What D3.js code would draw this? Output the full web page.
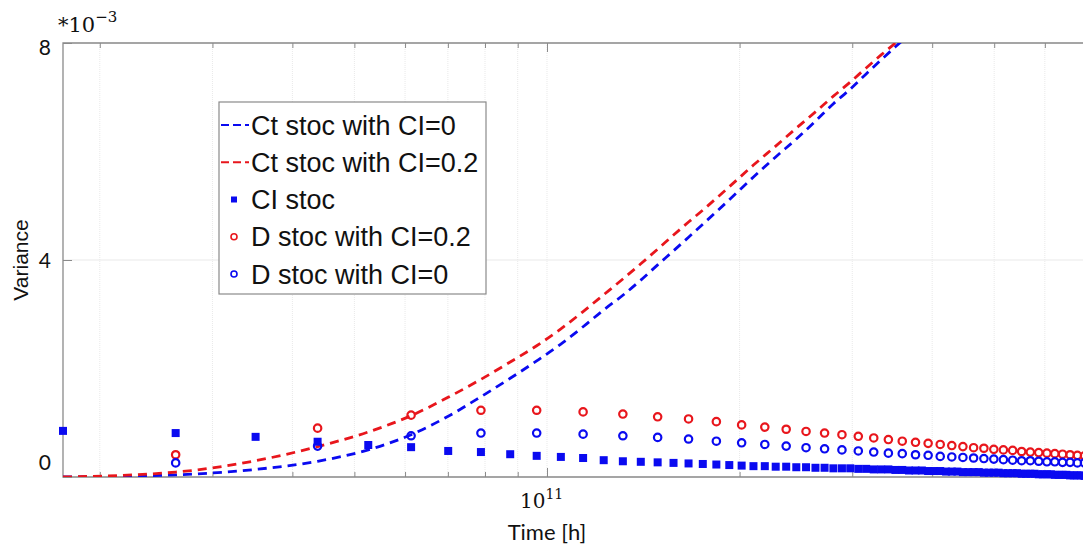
<!DOCTYPE html>
<html>
<head>
<meta charset="utf-8">
<script src="https://cdn.jsdelivr.net/npm/d3@7/dist/d3.min.js"></script>
<style>
  html, body { margin: 0; padding: 0; background: #fff; }
  svg { display: block; }
</style>
</head>
<body>
<svg id="chart" width="1083" height="548"></svg>
<script>
// ---------------- DATA ----------------
const stepHours = 8.76e9;               // one time step (1e6 years) in hours
const xTickValues = [2e10, 3e10, 4e10, 5e10, 6e10, 7e10, 8e10, 9e10, 1e11, 2e11, 3e11, 4e11, 5e11, 6e11, 7e11];
const yTickValues = [0, 4, 8];          // in units of 1e-3

// dashed curves (Ct stoc), value *1e-3
const lineSteps = [2, 3, 4, 5, 6, 7, 8, 9, 10, 11, 12, 13, 14, 15, 16, 17, 18, 19, 20, 22, 24, 26, 28, 30, 32, 34, 36, 38, 40, 42];
const ctCI0   = [0, 0.04, 0.14, 0.29, 0.50, 0.78, 1.12, 1.48, 1.82, 2.14, 2.45, 2.77, 3.08, 3.35, 3.63, 3.91, 4.17, 4.42, 4.66, 5.11, 5.53, 5.90, 6.23, 6.56, 6.88, 7.15, 7.43, 7.69, 7.93, 8.15];
const ctCI02  = [0, 0.09, 0.30, 0.56, 0.83, 1.13, 1.47, 1.80, 2.12, 2.42, 2.73, 3.05, 3.36, 3.65, 3.93, 4.20, 4.46, 4.70, 4.92, 5.35, 5.75, 6.10, 6.43, 6.73, 7.02, 7.28, 7.54, 7.78, 8.00, 8.22];

// CI stoc (filled squares), every step
const ciSteps = [2, 3, 4, 5, 6, 7, 8, 9, 10, 11, 12, 13, 14, 15, 16, 17, 18, 19, 20, 21, 22, 23, 24, 25, 26, 27, 28, 29, 30, 31, 32, 33, 34, 35, 36, 37, 38, 39, 40, 41, 42, 43, 44, 45, 46, 47, 48, 49, 50, 51, 52, 53, 54, 55, 56, 57, 58, 59, 60, 61, 62, 63, 64, 65, 66, 67, 68, 69, 70, 71, 72, 73, 74, 75, 76, 77, 78, 79, 80];
const ciStoc  = [0.85, 0.81, 0.74, 0.65, 0.59, 0.55, 0.48, 0.46, 0.42, 0.39, 0.37, 0.35, 0.31, 0.29, 0.28, 0.27, 0.26, 0.25, 0.24, 0.23, 0.22, 0.21, 0.20, 0.20, 0.19, 0.19, 0.18, 0.18, 0.17, 0.17, 0.16, 0.16, 0.16, 0.15, 0.15, 0.14, 0.14, 0.14, 0.13, 0.13, 0.12, 0.12, 0.12, 0.11, 0.11, 0.11, 0.10, 0.10, 0.10, 0.09, 0.09, 0.09, 0.09, 0.08, 0.08, 0.08, 0.08, 0.07, 0.07, 0.07, 0.07, 0.06, 0.06, 0.06, 0.06, 0.05, 0.05, 0.05, 0.05, 0.04, 0.04, 0.04, 0.04, 0.03, 0.03, 0.03, 0.03, 0.02, 0.02];

// D stoc (open circles), odd steps
const dSteps  = [3, 5, 7, 9, 11, 13, 15, 17, 19, 21, 23, 25, 27, 29, 31, 33, 35, 37, 39, 41, 43, 45, 47, 49, 51, 53, 55, 57, 59, 61, 63, 65, 67, 69, 71, 73, 75, 77, 79];
const dCI02   = [0.41, 0.90, 1.14, 1.23, 1.23, 1.20, 1.16, 1.11, 1.07, 1.02, 0.96, 0.92, 0.88, 0.84, 0.81, 0.78, 0.75, 0.72, 0.69, 0.66, 0.64, 0.62, 0.60, 0.58, 0.56, 0.54, 0.53, 0.51, 0.50, 0.49, 0.47, 0.46, 0.45, 0.44, 0.43, 0.42, 0.41, 0.40, 0.39];
const dCI0    = [0.26, 0.57, 0.76, 0.81, 0.81, 0.79, 0.76, 0.73, 0.70, 0.66, 0.63, 0.60, 0.57, 0.54, 0.52, 0.50, 0.48, 0.46, 0.44, 0.43, 0.41, 0.40, 0.38, 0.37, 0.36, 0.35, 0.34, 0.33, 0.32, 0.31, 0.30, 0.30, 0.29, 0.28, 0.28, 0.27, 0.27, 0.26, 0.26];

const legendLabels = ["Ct stoc with CI=0", "Ct stoc with CI=0.2", "CI stoc", "D stoc with CI=0.2", "D stoc with CI=0"];

// ---------------- STYLE ----------------
const BLUE = "#0a0af0", RED = "#e8161c";
const AX = "#8a8a8a", GRID = "#e9e9e9";
const pL = 63, pR = 1088, pT = 43, pB = 477;

const svg = d3.select("#chart");
const x = d3.scaleLog().domain([2 * stepHours, 80 * stepHours]).range([pL, pR]);
const y = d3.scaleLinear().domain([0, 8]).range([pB, pT]);

// clip
svg.append("defs").append("clipPath").attr("id", "plotclip")
  .append("rect").attr("x", pL).attr("y", pT).attr("width", pR - pL).attr("height", pB - pT);

// grid lines
const grid = svg.append("g");
grid.selectAll(".vg").data(xTickValues).enter().append("line")
  .attr("x1", d => x(d)).attr("x2", d => x(d)).attr("y1", pT).attr("y2", pB)
  .attr("stroke", GRID).attr("stroke-width", 1).attr("stroke-dasharray", "1,1");
grid.selectAll(".hg").data(yTickValues).enter().append("line")
  .attr("x1", pL).attr("x2", pR).attr("y1", d => y(d)).attr("y2", d => y(d))
  .attr("stroke", GRID).attr("stroke-width", 1);

// axes via d3 axis generators (inward ticks, no labels)
function styleAxis(g) {
  g.select(".domain").remove();
  g.selectAll(".tick line").attr("stroke", AX);
  g.selectAll(".tick text").remove();
}
svg.append("g").attr("transform", `translate(0,${pB})`)
  .call(d3.axisBottom(x).tickValues(xTickValues).tickSizeInner(-5).tickSizeOuter(0))
  .call(styleAxis)
  .call(g => g.selectAll(".tick line").filter(d => d === 1e11).attr("y2", -9));
svg.append("g").attr("transform", `translate(0,${pT})`)
  .call(d3.axisTop(x).tickValues(xTickValues).tickSizeInner(-5).tickSizeOuter(0))
  .call(styleAxis)
  .call(g => g.selectAll(".tick line").filter(d => d === 1e11).attr("y2", 9));
svg.append("g").attr("transform", `translate(${pL},0)`)
  .call(d3.axisLeft(y).tickValues(yTickValues).tickSizeInner(-9).tickSizeOuter(0))
  .call(styleAxis);

// box
svg.append("path")
  .attr("d", `M${pR},${pT}H${pL}V${pB}H${pR}`)
  .attr("fill", "none").attr("stroke", AX).attr("stroke-width", 1.3);

// y tick labels
svg.selectAll(".ylab").data(yTickValues).enter().append("text")
  .attr("x", 51)
  .attr("y", d => y(d) + (d === 0 ? -15 : (d === 8 ? 4 : 0)))
  .attr("dy", "0.36em")
  .attr("text-anchor", "end")
  .attr("font-family", "Lato, 'Open Sans', sans-serif")
  .attr("font-size", 21).attr("fill", "#111")
  .text(d => d);

// x tick label 10^11
const xl = svg.append("text").attr("x", x(1e11) - 27).attr("y", 508)
  .attr("font-family", "'DejaVu Serif', serif").attr("font-size", 20).attr("fill", "#111");
xl.append("tspan").text("10");
xl.append("tspan").attr("font-size", 14).attr("dy", -9).text("11");

// exponent label
const ex = svg.append("text").attr("x", 58).attr("y", 32)
  .attr("font-family", "'DejaVu Serif', serif").attr("font-size", 21).attr("fill", "#111");
ex.append("tspan").text("*10");
ex.append("tspan").attr("font-size", 15).attr("dy", -10).text("−3");

// axis titles
svg.append("text").attr("x", x(1e11)).attr("y", 540).attr("text-anchor", "middle")
  .attr("font-family", "Lato, 'Open Sans', sans-serif").attr("font-size", 22).attr("fill", "#111")
  .text("Time [h]");
svg.append("text").attr("transform", "translate(28,260) rotate(-90)").attr("text-anchor", "middle")
  .attr("font-family", "'Liberation Sans', Arial, sans-serif").attr("font-size", 21).attr("fill", "#111")
  .text("Variance");

// dashed lines
const plot = svg.append("g").attr("clip-path", "url(#plotclip)");
function drawLine(vals, color) {
  const pts = lineSteps.map((s, i) => [s * stepHours, vals[i]]);
  plot.append("path").datum(pts)
    .attr("d", d3.line().x(d => x(d[0])).y(d => y(d[1])).curve(d3.curveMonotoneX))
    .attr("fill", "none").attr("stroke", color).attr("stroke-width", 2.8)
    .attr("stroke-dasharray", "9,6");
}
drawLine(ctCI0, BLUE);
drawLine(ctCI02, RED);

// markers
const mk = svg.append("g");
mk.selectAll(".sq").data(ciSteps.map((s, i) => [s * stepHours, ciStoc[i]])).enter().append("rect")
  .attr("x", d => x(d[0]) - 4).attr("y", d => y(d[1]) - 4)
  .attr("width", 8).attr("height", 8).attr("fill", BLUE);
function drawCircles(vals, color) {
  mk.selectAll(null).data(dSteps.map((s, i) => [s * stepHours, vals[i]])).enter().append("circle")
    .attr("cx", d => x(d[0])).attr("cy", d => y(d[1])).attr("r", 3.7)
    .attr("fill", "none").attr("stroke", color).attr("stroke-width", 2.2);
}
drawCircles(dCI02, RED);
drawCircles(dCI0, BLUE);

// legend
const lg = svg.append("g");
lg.append("rect").attr("x", 219).attr("y", 102).attr("width", 267).attr("height", 192)
  .attr("fill", "#fff").attr("stroke", AX).attr("stroke-width", 1.2);
const rowY = d3.scalePoint().domain(legendLabels).range([125, 274]);
legendLabels.forEach((lab, i) => {
  const cy = rowY(lab);
  const sx = 234;
  if (i === 0 || i === 1) {
    lg.append("line").attr("x1", 221).attr("x2", 249).attr("y1", cy).attr("y2", cy)
      .attr("stroke", i === 0 ? BLUE : RED).attr("stroke-width", 2).attr("stroke-dasharray", "8,4");
  } else if (i === 2) {
    lg.append("rect").attr("x", sx - 3).attr("y", cy - 3).attr("width", 6).attr("height", 6).attr("fill", BLUE);
  } else {
    lg.append("circle").attr("cx", sx).attr("cy", cy).attr("r", 3)
      .attr("fill", "none").attr("stroke", i === 3 ? RED : BLUE).attr("stroke-width", 1.6);
  }
  lg.append("text").attr("x", 251).attr("y", cy).attr("dy", "0.36em")
    .attr("font-family", "'Liberation Sans', Arial, sans-serif").attr("font-size", 27).attr("fill", "#111")
    .attr("textLength", null)
    .text(lab);
});
</script>
</body>
</html>
